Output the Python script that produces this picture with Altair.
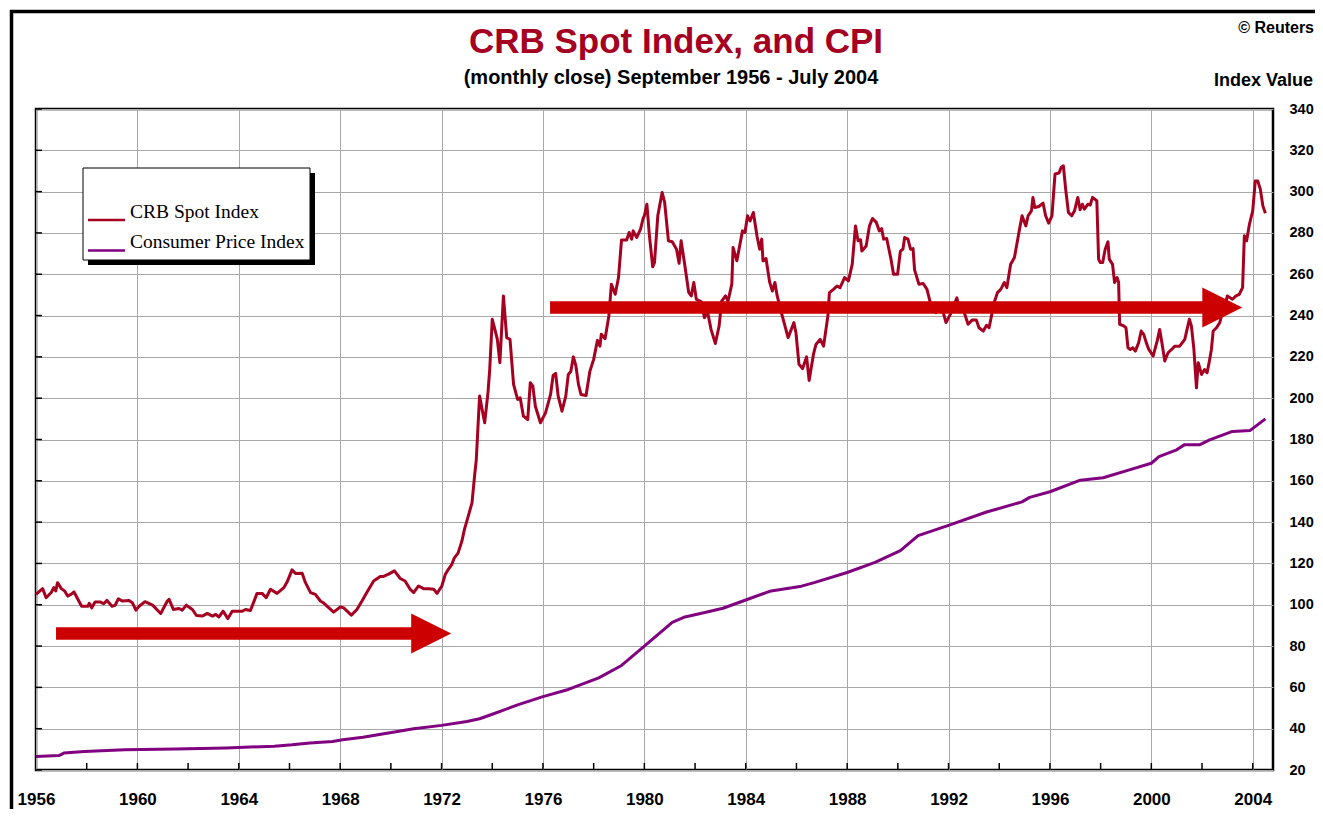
import altair as alt
import pandas as pd

# ---------------- data ----------------
crb_year = [
    1956.00, 1956.26, 1956.40, 1956.60, 1956.70, 1956.78, 1956.85, 1957.00, 1957.13, 1957.25,
    1957.38, 1957.50, 1957.80, 1958.05, 1958.10, 1958.20, 1958.33, 1958.55, 1958.67, 1958.80,
    1959.00, 1959.12, 1959.25, 1959.40, 1959.67, 1959.80, 1959.94, 1960.07, 1960.30, 1960.60,
    1960.92, 1961.18, 1961.25, 1961.42, 1961.64, 1961.77, 1961.93, 1962.17, 1962.33, 1962.56,
    1962.76, 1962.96, 1963.09, 1963.22, 1963.38, 1963.57, 1963.74, 1963.94, 1964.14, 1964.27,
    1964.46, 1964.72, 1964.92, 1965.08, 1965.25, 1965.51, 1965.78, 1965.91, 1966.10, 1966.24,
    1966.50, 1966.63, 1966.83, 1967.02, 1967.22, 1967.33, 1967.48, 1967.74, 1968.01, 1968.14,
    1968.44, 1968.66, 1968.86, 1969.05, 1969.32, 1969.58, 1969.71, 1969.91, 1970.14, 1970.37,
    1970.56, 1970.76, 1970.90, 1971.09, 1971.29, 1971.49, 1971.69, 1971.82, 1972.01, 1972.15,
    1972.26, 1972.40, 1972.50, 1972.65, 1972.80, 1972.90, 1973.05, 1973.20, 1973.30, 1973.37,
    1973.43, 1973.50, 1973.70, 1973.83, 1973.90, 1974.00, 1974.15, 1974.20, 1974.30, 1974.44,
    1974.57, 1974.70, 1974.84, 1975.00, 1975.10, 1975.23, 1975.40, 1975.50, 1975.60, 1975.70,
    1975.90, 1976.10, 1976.30, 1976.40, 1976.50, 1976.60, 1976.75, 1976.90, 1977.00, 1977.10,
    1977.20, 1977.30, 1977.40, 1977.50, 1977.70, 1977.85, 1978.00, 1978.15, 1978.25, 1978.30,
    1978.45, 1978.60, 1978.70, 1978.85, 1978.98, 1979.10, 1979.30, 1979.40, 1979.50, 1979.56,
    1979.70, 1979.85, 1979.95, 1980.00, 1980.10, 1980.20, 1980.33, 1980.40, 1980.53, 1980.70,
    1980.80, 1980.95, 1981.10, 1981.27, 1981.37, 1981.45, 1981.60, 1981.75, 1981.85, 1981.95,
    1982.05, 1982.25, 1982.37, 1982.50, 1982.63, 1982.80, 1982.95, 1983.05, 1983.20, 1983.30,
    1983.45, 1983.50, 1983.65, 1983.87, 1983.97, 1984.07, 1984.17, 1984.30, 1984.45, 1984.55,
    1984.63, 1984.68, 1984.80, 1984.94, 1985.05, 1985.15, 1985.24, 1985.44, 1985.67, 1985.90,
    1985.98, 1986.10, 1986.24, 1986.40, 1986.50, 1986.67, 1986.77, 1986.94, 1987.07, 1987.24,
    1987.30, 1987.46, 1987.60, 1987.72, 1987.90, 1988.05, 1988.20, 1988.33, 1988.43, 1988.53,
    1988.58, 1988.75, 1988.88, 1989.00, 1989.15, 1989.27, 1989.36, 1989.44, 1989.56, 1989.73,
    1989.83, 1989.99, 1990.10, 1990.20, 1990.27, 1990.40, 1990.50, 1990.60, 1990.66, 1990.83,
    1991.00, 1991.15, 1991.28, 1991.40, 1991.50, 1991.70, 1991.90, 1992.07, 1992.33, 1992.40,
    1992.60, 1992.77, 1992.93, 1993.10, 1993.20, 1993.37, 1993.50, 1993.60, 1993.80, 1993.93,
    1994.06, 1994.20, 1994.30, 1994.45, 1994.60, 1994.80, 1994.90, 1995.05, 1995.14, 1995.27,
    1995.33, 1995.40, 1995.56, 1995.73, 1995.83, 1995.95, 1996.08, 1996.20, 1996.36, 1996.44,
    1996.53, 1996.62, 1996.73, 1996.86, 1996.97, 1997.10, 1997.19, 1997.28, 1997.36, 1997.50,
    1997.59, 1997.68, 1997.85, 1997.92, 1997.98, 1998.08, 1998.18, 1998.29, 1998.34, 1998.47,
    1998.55, 1998.65, 1998.71, 1998.75, 1998.91, 1999.00, 1999.08, 1999.17, 1999.27, 1999.37,
    1999.50, 1999.60, 1999.70, 1999.80, 1999.90, 2000.07, 2000.23, 2000.33, 2000.44, 2000.53,
    2000.66, 2000.80, 2000.93, 2001.12, 2001.32, 2001.50, 2001.58, 2001.68, 2001.78, 2001.85,
    2001.98, 2002.10, 2002.20, 2002.28, 2002.37, 2002.44, 2002.57, 2002.70, 2002.80, 2002.90,
    2003.00, 2003.20, 2003.34, 2003.47, 2003.60, 2003.67, 2003.76, 2003.87, 2004.00, 2004.10,
    2004.20, 2004.30, 2004.40, 2004.50,
]
crb_value = [
    105.0, 107.8, 103.4, 105.9, 108.3, 106.7, 110.7, 107.8, 106.7, 104.2,
    105.0, 106.2, 99.3, 99.3, 100.7, 98.5, 101.3, 101.3, 100.5, 102.1,
    99.3, 99.7, 102.9, 101.8, 102.1, 101.0, 97.4, 99.3, 101.5, 99.8,
    95.8, 101.8, 102.6, 97.7, 98.2, 97.4, 99.8, 97.7, 94.8, 94.5,
    95.8, 94.5, 95.3, 94.1, 96.9, 93.3, 96.9, 96.9, 96.9, 97.7,
    97.2, 105.5, 105.5, 103.4, 107.5, 105.5, 108.3, 111.1, 116.9, 115.1,
    115.3, 110.7, 105.9, 105.0, 101.8, 101.0, 99.3, 96.4, 99.0, 98.5,
    95.0, 97.7, 101.8, 105.9, 111.5, 113.7, 113.7, 114.8, 116.4, 112.7,
    111.5, 107.5, 105.9, 109.1, 107.8, 107.8, 107.5, 105.5, 109.1, 114.8,
    117.0, 119.4, 122.6, 125.0, 130.7, 136.4, 142.8, 149.3, 162.2, 170.3,
    184.8, 201.0, 188.1, 202.6, 214.0, 238.2, 231.0, 228.5, 217.2, 249.5,
    229.3, 228.5, 206.7, 199.4, 200.2, 191.3, 189.7, 207.5, 205.8, 196.1,
    188.1, 192.9, 201.8, 211.0, 212.0, 201.0, 193.7, 201.0, 211.5, 213.0,
    220.0, 215.6, 206.7, 201.8, 201.3, 213.0, 218.8, 228.0, 225.2, 230.9,
    228.8, 239.8, 255.2, 250.3, 258.4, 276.6, 276.6, 280.2, 277.0, 281.0,
    277.8, 281.8, 287.0, 288.3, 293.9, 278.6, 263.6, 265.7, 288.3, 299.6,
    294.8, 276.2, 275.7, 272.1, 265.3, 276.2, 264.0, 251.2, 249.5, 256.0,
    247.9, 246.6, 239.0, 241.4, 233.3, 226.5, 235.0, 247.0, 249.5, 247.0,
    255.2, 272.9, 266.5, 281.0, 280.2, 288.3, 285.8, 289.9, 278.0, 272.1,
    277.0, 266.5, 267.6, 256.3, 251.9, 256.0, 249.5, 239.8, 229.3, 236.6,
    231.7, 216.4, 214.3, 220.0, 208.6, 221.2, 226.0, 228.5, 225.2, 239.8,
    251.1, 252.7, 254.3, 253.5, 258.4, 256.8, 264.8, 283.4, 276.2, 276.7,
    271.2, 273.7, 283.4, 287.0, 285.1, 281.0, 282.1, 277.0, 277.3, 267.3,
    260.0, 260.0, 271.2, 272.1, 277.8, 277.0, 272.1, 272.4, 262.1, 255.2,
    255.5, 252.7, 246.3, 245.5, 241.4, 245.5, 236.6, 240.6, 248.6, 243.3,
    242.2, 235.8, 237.8, 237.8, 234.1, 232.5, 235.3, 234.1, 246.3, 251.1,
    252.7, 256.0, 253.5, 264.8, 268.1, 281.8, 288.3, 283.4, 288.3, 290.7,
    297.2, 292.3, 292.8, 294.4, 288.3, 284.7, 288.3, 308.5, 309.0, 311.7,
    312.5, 301.2, 289.9, 288.3, 290.7, 297.2, 291.2, 293.9, 291.5, 293.9,
    293.5, 297.2, 295.6, 267.3, 265.7, 265.7, 272.1, 275.7, 267.3, 264.8,
    256.0, 258.4, 256.0, 235.8, 235.0, 234.1, 224.4, 223.6, 224.4, 222.8,
    226.9, 232.5, 230.9, 226.9, 223.6, 220.4, 227.6, 233.3, 225.2, 218.0,
    222.0, 223.6, 225.2, 225.2, 228.5, 238.2, 235.0, 223.6, 205.0, 217.2,
    211.5, 213.9, 212.3, 217.2, 223.6, 232.5, 234.1, 236.6, 241.4, 244.6,
    249.5, 247.9, 249.5, 250.3, 253.5, 278.6, 276.2, 284.2, 290.7, 305.1,
    305.1, 301.2, 293.1, 289.5,
]

cpi_year = [
    1956.0, 1956.9, 1957.1, 1957.9, 1959.5, 1961.5, 1963.5, 1965.4, 1966.1, 1966.8,
    1967.7, 1968.1, 1968.9, 1969.9, 1970.9, 1972.0, 1973.0, 1973.5, 1974.0, 1975.0,
    1976.0, 1977.0, 1978.2, 1979.1, 1980.0, 1981.1, 1981.6, 1982.3, 1983.1, 1984.0,
    1985.0, 1986.2, 1986.7, 1988.0, 1989.1, 1990.1, 1990.8, 1992.0, 1993.5, 1994.9,
    1995.2, 1996.0, 1997.2, 1998.1, 1999.1, 2000.0, 2000.3, 2001.0, 2001.3, 2001.9,
    2002.3, 2003.2, 2003.9, 2004.5,
]
cpi_value = [
    26.5, 27.0, 28.2, 29.0, 29.8, 30.2, 30.7, 31.5, 32.2, 33.1,
    33.8, 34.6, 35.9, 37.9, 40.0, 41.6, 43.5, 44.8, 47.0, 51.5,
    55.5, 59.0, 64.6, 70.6, 80.0, 91.5, 94.1, 96.0, 98.3, 102.3,
    106.7, 109.0, 110.7, 115.6, 120.5, 126.2, 133.5, 138.4, 144.9, 149.8,
    152.0, 154.7, 160.3, 161.5, 165.2, 168.5, 171.7, 175.0, 177.4, 177.4,
    179.8, 183.9, 184.4, 190.0,
]

series_names = ["CRB Spot Index", "Consumer Price Index"]
series_colors = ["#A50021", "#800080"]
x_tick_years = list(range(1956, 2005, 4))
minor_tick_years = list(range(1958, 2005, 2))
y_tick_values = list(range(20, 341, 20))
arrow_start = [1956.79, 1976.28]
arrow_head = [1971.59, 2002.80]
arrow_level = [86.1, 243.9]

title_text = "CRB Spot Index, and CPI"
subtitle_text = "(monthly close) September 1956 - July 2004"
source_text = "\u00a9 Reuters"
yunit_text = "Index Value"

# ---------------- chart ----------------
W, H = 1237, 661
FONT = "Liberation Sans"
GRID = "#A8A8A8"
ARROW = "#CC0000"

xs = alt.Scale(domain=[1956, 2004.8], nice=False, zero=False)
ys = alt.Scale(domain=[20, 340], nice=False, zero=False)

XAX = alt.Axis(
    values=x_tick_years, format="d", title=None, grid=True, gridColor=GRID,
    gridWidth=1, ticks=False, domain=False, labelFont=FONT, labelFontWeight="bold",
    labelFontSize=17, labelColor="black", labelPadding=21, labelFlush=False,
    labelOverlap=False)
YAX = alt.Axis(
    orient="right", values=y_tick_values, title=None, grid=True, gridColor=GRID,
    gridWidth=1, ticks=False, domain=False, labelFont=FONT, labelFontWeight="bold",
    labelFontSize=14.5, labelColor="black", labelPadding=16, labelOverlap=False)

df = pd.concat([
    pd.DataFrame({"year": crb_year, "value": crb_value, "series": series_names[0]}),
    pd.DataFrame({"year": cpi_year, "value": cpi_value, "series": series_names[1]}),
])

lines = alt.Chart(df).mark_line(strokeWidth=3, strokeJoin="round").encode(
    x=alt.X("year:Q", scale=xs, axis=XAX),
    y=alt.Y("value:Q", scale=ys, axis=YAX),
    color=alt.Color("series:N", scale=alt.Scale(domain=series_names, range=series_colors),
                    legend=None),
    order=alt.Order("year:Q"),
)

xt = alt.Chart(pd.DataFrame({"year": minor_tick_years})).mark_rule(
    color="black", strokeWidth=1.5).encode(
    x=alt.X("year:Q", scale=xs, axis=XAX), y=alt.value(H), y2=alt.value(H - 7))
yt = alt.Chart(pd.DataFrame({"value": y_tick_values})).mark_rule(
    color="black", strokeWidth=1.5).encode(
    y=alt.Y("value:Q", scale=ys, axis=YAX), x=alt.value(0), x2=alt.value(6))

arrows_df = pd.DataFrame({"year": arrow_start, "year_end": arrow_head, "value": arrow_level})
shafts = alt.Chart(arrows_df).mark_rule(strokeWidth=12.5, color=ARROW, strokeCap="butt").encode(
    x=alt.X("year:Q", scale=xs, axis=XAX), x2="year_end:Q",
    y=alt.Y("value:Q", scale=ys, axis=YAX))
heads = alt.Chart(arrows_df).mark_point(
    shape="M-1,-1L1,0L-1,1Z", size=1600, filled=True, opacity=1, color=ARROW,
    strokeWidth=0).encode(
    x=alt.X("year_end:Q", scale=xs, axis=XAX), y=alt.Y("value:Q", scale=ys, axis=YAX))

one = pd.DataFrame({"d": [0]})

# legend box (decoration)
shadow = alt.Chart(one).mark_rect(color="black").encode(
    x=alt.value(52), x2=alt.value(279), y=alt.value(64), y2=alt.value(156))
box = alt.Chart(one).mark_rect(fill="white", stroke="black", strokeWidth=1).encode(
    x=alt.value(47), x2=alt.value(274), y=alt.value(59), y2=alt.value(151))
leg_layers = []
for name, col, ly, ty in zip(series_names, series_colors, [111, 141.5], [109, 138.5]):
    leg_layers.append(alt.Chart(one).mark_rule(color=col, strokeWidth=2.5).encode(
        x=alt.value(52), x2=alt.value(89), y=alt.value(ly)))
    leg_layers.append(alt.Chart(one).mark_text(
        text=name, align="left", baseline="alphabetic", font="Liberation Serif",
        fontSize=19.5, color="black").encode(x=alt.value(94), y=alt.value(ty)))

# texts
title = alt.Chart(one).mark_text(text=title_text, align="center", baseline="alphabetic",
                                 font=FONT, fontWeight="bold", fontSize=35,
                                 color="#A50021").encode(x=alt.value(640), y=alt.value(-56))
subtitle = alt.Chart(one).mark_text(text=subtitle_text, align="center", baseline="alphabetic",
                                    font=FONT, fontWeight="bold", fontSize=20,
                                    color="black").encode(x=alt.value(635), y=alt.value(-25))
source = alt.Chart(one).mark_text(text=source_text, align="right", baseline="alphabetic",
                                  font=FONT, fontWeight="bold", fontSize=16,
                                  color="black").encode(x=alt.value(1278), y=alt.value(-76))
yunit = alt.Chart(one).mark_text(text=yunit_text, align="right", baseline="alphabetic",
                                 font=FONT, fontWeight="bold", fontSize=18,
                                 color="black").encode(x=alt.value(1277), y=alt.value(-23))

# outer frame (left and top border)
border_l = alt.Chart(one).mark_rule(color="black", strokeWidth=3.5).encode(
    x=alt.value(-24.5), y=alt.value(-99), y2=alt.value(720))
border_t = alt.Chart(one).mark_rule(color="black", strokeWidth=3.5).encode(
    y=alt.value(-97.5), x=alt.value(-26), x2=alt.value(1300))

chart = alt.layer(
    lines, xt, yt, shafts, heads, shadow, box, *leg_layers,
    title, subtitle, source, yunit, border_l, border_t,
).properties(
    width=W, height=H,
    padding={"left": 28, "top": 101, "right": 42, "bottom": 39},
    autosize=alt.AutoSizeParams(type="none"),
    background="white",
).configure_view(stroke="black", strokeWidth=2.5)

chart.save("out.html", embed_options={"renderer": "svg", "actions": False})
